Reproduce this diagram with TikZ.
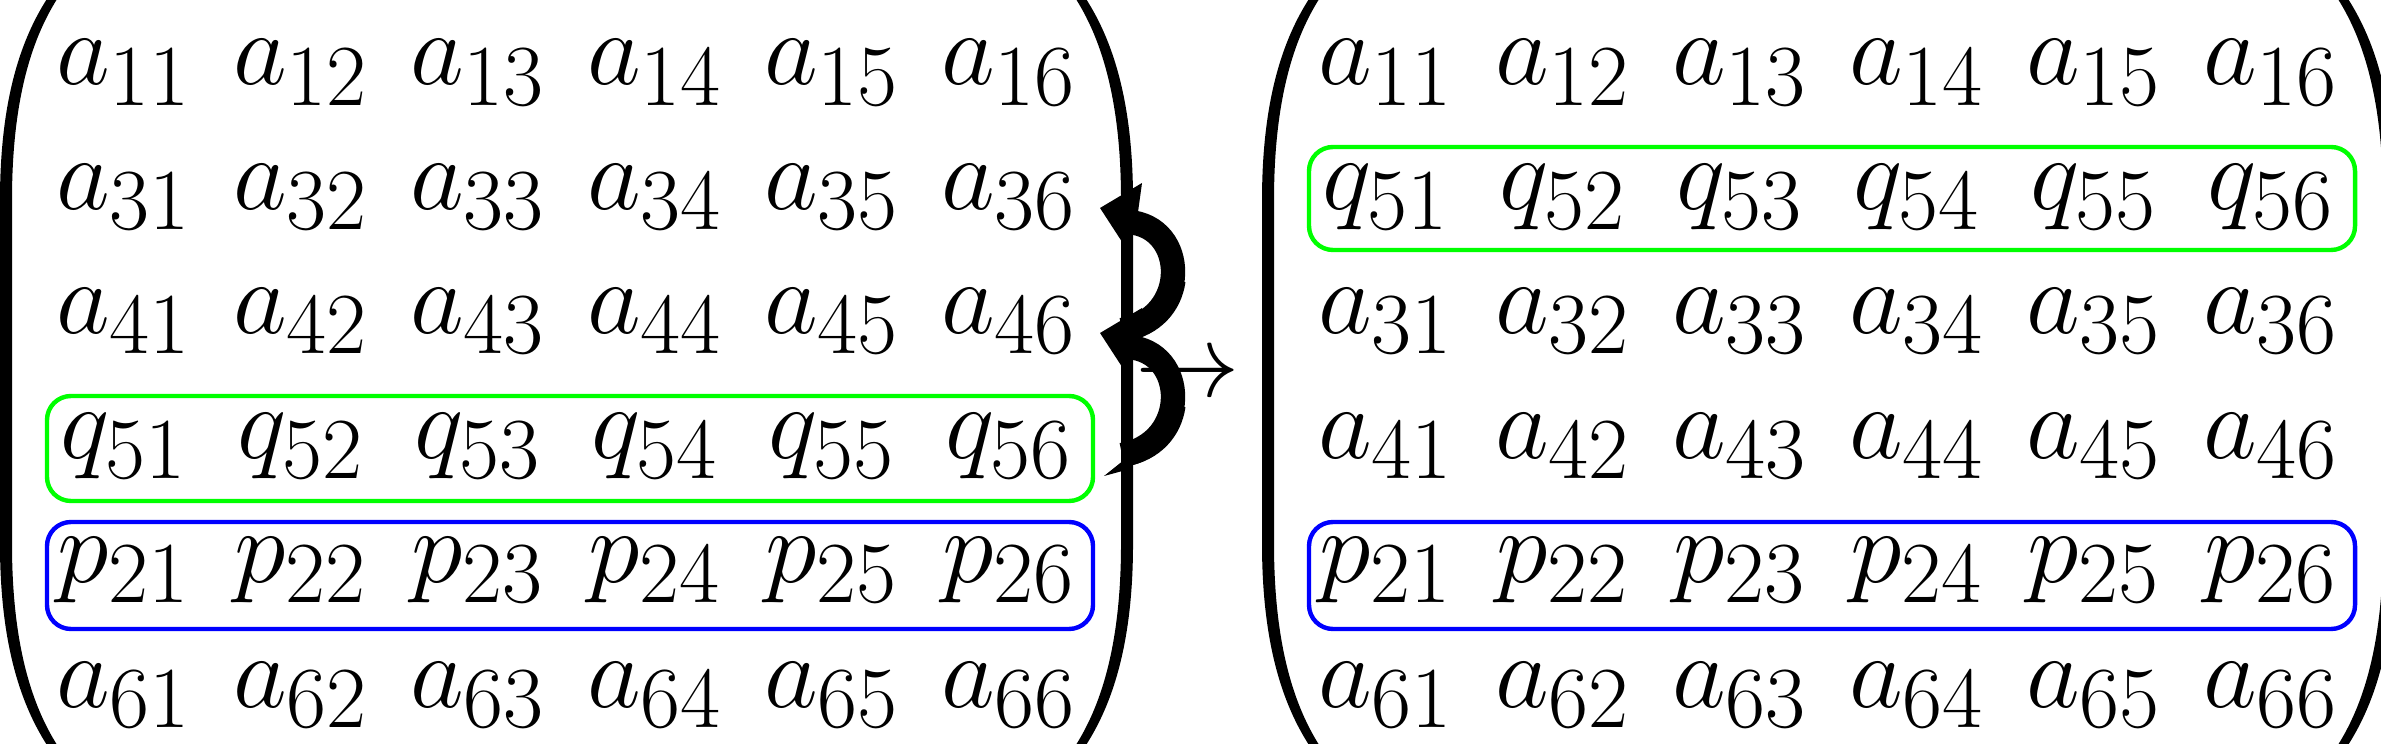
\documentclass[tikz,border=0pt]{standalone}
\tikzset{
  ent/.style={font=\Huge, anchor=base, inner sep=0pt},
  gbox/.style={draw=green, line width=1.05pt, rounded corners=5.7pt},
  bbox/.style={draw=blue, line width=1.05pt, rounded corners=5.7pt},
  arcline/.style={line width=5.8pt},
  thinarc/.style={line width=0.7pt},
}
\newcommand{\parenpath}{%
  \fill (0,372) -- (0,200) .. controls (0,80) and (30,18) .. (62,-22) -- (69,-18)
     .. controls (38,22) and (12,85) .. (12,200) -- (12,544)
     .. controls (12,659) and (38,722) .. (69,762) -- (62,766)
     .. controls (30,726) and (0,664) .. (0,544) -- cycle;}
\begin{document}
\begin{tikzpicture}[x=0.2381pt,y=-0.2381pt]
\useasboundingbox (0,0) rectangle (2381,744);
% left matrix entries
\foreach \xl/\xd [count=\i] in {a/1,a/3,a/4,q/5,p/2,a/6}{
  \foreach \j in {1,...,6}{
    \node[ent] (L-\i-\j) at ({124+177*(\j-1)},{85+124.4*(\i-1)}) {$\xl_{\xd\j}$};
  }
}
% right matrix entries
\foreach \xl/\xd [count=\i] in {a/1,q/5,a/3,a/4,p/2,a/6}{
  \foreach \j in {1,...,6}{
    \node[ent] (R-\i-\j) at ({1386+177*(\j-1)},{85+124.4*(\i-1)}) {$\xl_{\xd\j}$};
  }
}
% parentheses
\begin{scope}\parenpath\end{scope}
\begin{scope}[shift={(1133,0)},xscale=-1]\parenpath\end{scope}
\begin{scope}[shift={(1262,0)}]\parenpath\end{scope}
\begin{scope}[shift={(2395,0)},xscale=-1]\parenpath\end{scope}
% highlight boxes
\draw[gbox] (47,396) rectangle (1093,501);
\draw[bbox] (47,522) rectangle (1093,629);
\draw[gbox] (1309,147) rectangle (2355,250);
\draw[bbox] (1309,522) rectangle (2355,629);
% middle arrow
\node[font=\Huge, anchor=base west, inner sep=0pt] (arr) at (1135,397) {$\to$};
% swap arcs
\foreach \k/\dy in {1/0,2/125}{
  \coordinate (s\k) at (1128,{222+\dy});
  \coordinate (e\k) at (1122,{330+\dy});
  \draw[arcline] (s\k) .. controls (1188,{226+\dy}) and (1190,{318+\dy}) .. (e\k);
  \fill (1100,{208+\dy}) -- (1142,{183+\dy}) -- (1138,{212+\dy}) -- (1126,{248+\dy}) -- cycle;
  \draw[thinarc] (1126,{340+\dy}) .. controls (1160,{334+\dy}) and (1180,{310+\dy}) .. (1184,{282+\dy});
}
\fill (1104,476) -- (1124,460) -- (1126,470) -- cycle;
\end{tikzpicture}
\end{document}
